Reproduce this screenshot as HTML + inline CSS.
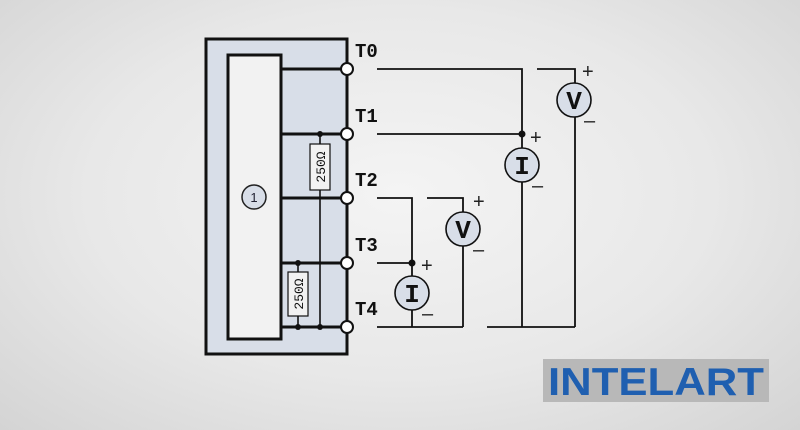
<!DOCTYPE html>
<html><head><meta charset="utf-8"><style>
html,body{margin:0;padding:0;}
body{width:800px;height:430px;overflow:hidden;background:radial-gradient(ellipse at 50% 45%,#f4f4f4 0%,#e8e8e8 55%,#d4d4d4 100%);}
</style></head><body>
<svg width="800" height="430" viewBox="0 0 800 430" xmlns="http://www.w3.org/2000/svg" style="position:absolute;left:0;top:0">
<rect x="206" y="39" width="141" height="315" fill="#d8dee8" stroke="#111" stroke-width="3"/>
<rect x="228" y="55" width="53" height="284" fill="#f2f2f2" stroke="#111" stroke-width="3"/>
<circle cx="254" cy="197" r="12" fill="#d8dee8" stroke="#222" stroke-width="1.5"/>
<text x="254" y="202" font-family="Liberation Sans, sans-serif" font-size="13" text-anchor="middle" fill="#223">1</text>
<g stroke="#111" stroke-width="3">
<line x1="281" y1="69" x2="347" y2="69"/><line x1="281" y1="134" x2="347" y2="134"/>
<line x1="281" y1="198" x2="347" y2="198"/><line x1="281" y1="263" x2="347" y2="263"/>
<line x1="281" y1="327" x2="347" y2="327"/>
</g>
<g stroke="#111" stroke-width="1.6">
<line x1="320" y1="134" x2="320" y2="327"/><line x1="298" y1="263" x2="298" y2="327"/>
</g>
<rect x="310" y="144" width="20" height="46" fill="#f2f2f2" stroke="#111" stroke-width="1.2"/>
<text transform="translate(325,167) rotate(-90)" font-family="Liberation Mono, monospace" font-size="13" text-anchor="middle" fill="#111">250Ω</text>
<rect x="288" y="272" width="20" height="44" fill="#f2f2f2" stroke="#111" stroke-width="1.2"/>
<text transform="translate(303,294) rotate(-90)" font-family="Liberation Mono, monospace" font-size="13" text-anchor="middle" fill="#111">250Ω</text>
<g fill="#111"><circle cx="320" cy="134" r="3"/><circle cx="298" cy="263" r="3"/><circle cx="298" cy="327" r="3"/><circle cx="320" cy="327" r="3"/>
<circle cx="522" cy="134" r="3.5"/><circle cx="412" cy="263" r="3.5"/></g>
<g fill="#fff" stroke="#111" stroke-width="2">
<circle cx="347" cy="69" r="6"/><circle cx="347" cy="134" r="6"/><circle cx="347" cy="198" r="6"/><circle cx="347" cy="263" r="6"/><circle cx="347" cy="327" r="6"/></g>
<g font-family="Liberation Mono, monospace" font-weight="bold" font-size="19" fill="#111">
<text x="355" y="57">T0</text><text x="355" y="122">T1</text><text x="355" y="186">T2</text><text x="355" y="251">T3</text><text x="355" y="315">T4</text></g>
<g stroke="#111" stroke-width="1.8" fill="none">
<polyline points="377,69 522,69 522,327"/><line x1="377" y1="134" x2="522" y2="134"/>
<line x1="487" y1="327" x2="575" y2="327"/><polyline points="537,69 575,69 575,327"/>
<polyline points="377,198 412,198 412,327"/><line x1="377" y1="263" x2="412" y2="263"/>
<line x1="377" y1="327" x2="463" y2="327"/><polyline points="427,198 463,198 463,327"/>
</g>
<g fill="#d8dee8" stroke="#111" stroke-width="1.6">
<circle cx="522" cy="165" r="17"/><circle cx="574" cy="100" r="17"/><circle cx="412" cy="293" r="17"/><circle cx="463" cy="229" r="17"/></g>
<g font-family="Liberation Mono, monospace" font-weight="bold" font-size="26" fill="#111" text-anchor="middle">
<text x="522" y="174">I</text><text x="574" y="109">V</text><text x="412" y="302">I</text><text x="463" y="238">V</text></g>
<g font-family="Liberation Sans, sans-serif" font-size="20" fill="#222">
<text x="530" y="144">+</text><text x="582" y="78">+</text><text x="421" y="272">+</text><text x="473" y="208">+</text>
<text x="532" y="192">–</text><text x="584" y="127">–</text><text x="422" y="320">–</text><text x="473" y="256">–</text></g>
<rect x="543" y="359" width="226" height="43" fill="#b8b8b8"/>
<text x="656" y="395" font-family="Liberation Sans, sans-serif" font-weight="bold" font-size="39" fill="#1f5fb0" text-anchor="middle" textLength="216" lengthAdjust="spacingAndGlyphs">INTELART</text>
</svg>
</body></html>
